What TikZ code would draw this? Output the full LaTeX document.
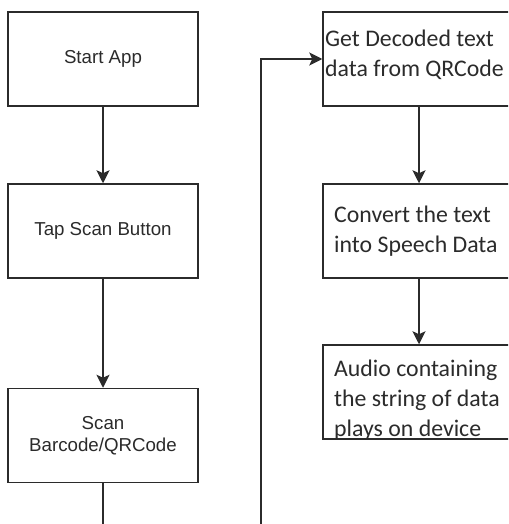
\documentclass[tikz,border=0pt]{standalone}
\usepackage{fontspec}
\usetikzlibrary{arrows.meta}
\newfontfamily\helvfont{Liberation Sans}
\newfontfamily\calibrifont{Carlito}
\definecolor{ink}{HTML}{2B2B2B}

\begin{document}
\begin{tikzpicture}[x=1pt,y=-1pt,
  box/.style={draw=ink, line width=1.5pt, rectangle, inner sep=0pt},
  leftbox/.style={box, minimum width=190pt, minimum height=94pt,
    align=center, text=ink, font=\helvfont\fontsize{18.7}{21.5}\selectfont},
  rightbox/.style={box, minimum width=192pt, minimum height=94pt},
  rtext/.style={align=left, anchor=west, text=ink, inner sep=0pt,
    font=\calibrifont\fontsize{23.8}{30}\selectfont},
  flow/.style={draw=ink, line width=1.5pt,
    -{Stealth[length=13pt,width=13pt,inset=3pt]}}
]
\useasboundingbox (0,0) rectangle (508,524);
\clip (0,0) rectangle (508,524);
\fill[white] (0,0) rectangle (508,524);

% left column
\node[leftbox] (start) at (103,59)    {Start App};
\node[leftbox] (tap)   at (103,231)   {Tap Scan Button};
\node[leftbox] (scan)  at (103,435.5) {Scan\\Barcode/QRCode};

% right column (boxes run past the right edge)
\node[rightbox] (decode)  at (419,59)  {};
\node[rightbox] (convert) at (419,231) {};
\node[rightbox] (audio)   at (419,392) {};

\node[rtext] (decodeT)  at (325,55)  {Get Decoded text\\data from QRCode};
\node[rtext] (convertT) at (334,231) {Convert the text\\into Speech Data};
\node[rtext] (audioT)   at (334,400) {Audio containing\\the string of data\\plays on device};

% connectors
\draw[flow] (start) -- (tap);
\draw[flow] (tap) -- (scan);
\draw[flow] (decode) -- (convert);
\draw[flow] (convert) -- (audio);

% return path from the scan step to the decoding step
\coordinate (loopA) at (103,540);
\coordinate (loopB) at (261,540);
\draw[flow] (scan.south) -- (loopA) -- (loopB) |- (decode.west);
\end{tikzpicture}
\end{document}
